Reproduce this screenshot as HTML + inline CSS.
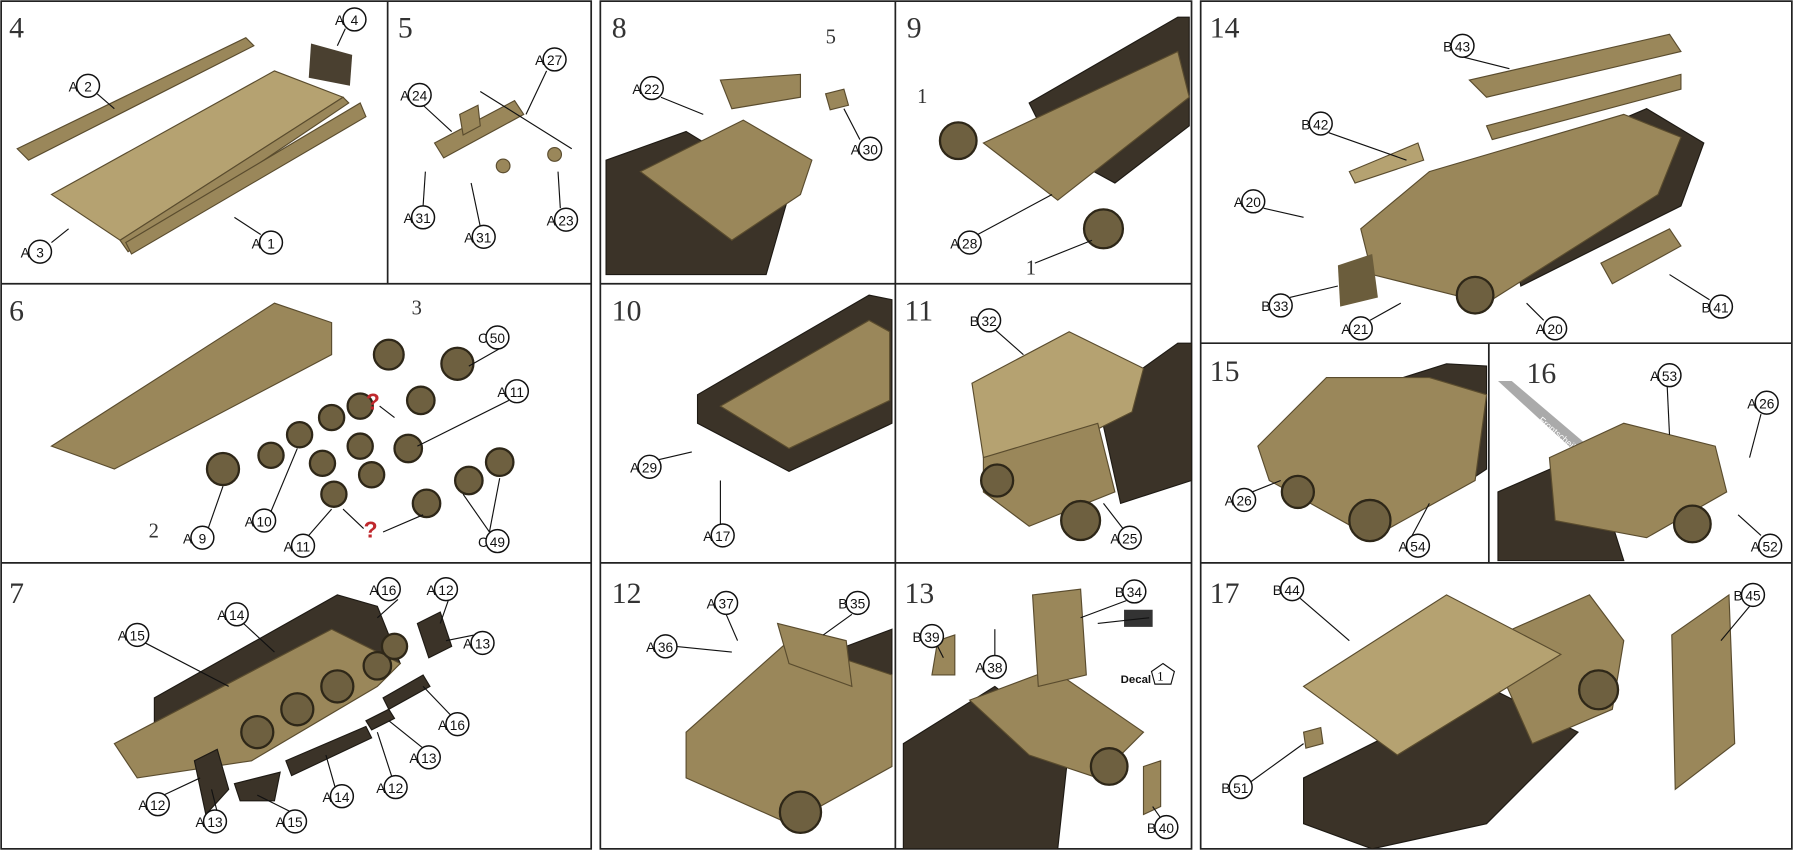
<!DOCTYPE html>
<html><head><meta charset="utf-8"><style>
html,body{margin:0;padding:0;background:#fff}
svg{display:block}
.st{font-family:"Liberation Serif",serif;font-size:26px;fill:#333}
.lb text{font-family:"Liberation Sans",sans-serif;font-size:12px;fill:#111}
.lb circle{fill:#fff;stroke:#111;stroke-width:1.3}
.tan{fill:#9a875a;stroke:#5a4c2e;stroke-width:1}
.tl{fill:#b5a271;stroke:#5a4c2e;stroke-width:1}
.trk{fill:#3b3328;stroke:#1e1a14;stroke-width:1}
.ln{stroke:#111;stroke-width:1;fill:none}
.wh{fill:#6e6040;stroke:#2e2718;stroke-width:2}
</style></head><body>
<svg width="1793" height="850" viewBox="0 0 1568 743" preserveAspectRatio="none" xmlns="http://www.w3.org/2000/svg">
<rect width="1568" height="743" fill="#fff"/>
<g fill="none" stroke="#222" stroke-width="1.5">
<rect x="1" y="1" width="516" height="741"/>
<line x1="1" y1="248" x2="517" y2="248"/><line x1="1" y1="492" x2="517" y2="492"/>
<line x1="339" y1="1" x2="339" y2="248"/>
<rect x="525" y="1" width="517" height="741"/>
<line x1="525" y1="248" x2="1042" y2="248"/><line x1="525" y1="492" x2="1042" y2="492"/>
<line x1="783" y1="1" x2="783" y2="742"/>
<rect x="1050" y="1" width="517" height="741"/>
<line x1="1050" y1="300" x2="1567" y2="300"/><line x1="1050" y1="492" x2="1567" y2="492"/>
<line x1="1302" y1="300" x2="1302" y2="492"/>
</g>
<text class="st" x="8" y="33">4</text><text class="st" x="348" y="33">5</text>
<text class="st" x="535" y="33">8</text><text class="st" x="793" y="33">9</text>
<text class="st" x="1058" y="33">14</text>
<text class="st" x="8" y="280">6</text><text class="st" x="535" y="280">10</text><text class="st" x="791" y="280">11</text>
<text class="st" x="1058" y="333">15</text><text class="st" x="1335" y="335">16</text>
<text class="st" x="8" y="527">7</text><text class="st" x="535" y="527">12</text><text class="st" x="791" y="527">13</text><text class="st" x="1058" y="527">17</text>

<!-- Panel 4 -->
<polygon class="tan" points="15,130 215,33 222,40 25,140"/>
<polygon class="tl" points="45,170 240,62 300,85 105,210"/>
<polygon class="tan" points="105,210 300,85 305,90 112,220"/>
<polygon class="tan" points="110,212 315,90 320,102 115,222"/>
<polygon fill="#4a4030" points="272,38 308,48 306,75 270,68"/>
<!-- Panel 5 -->
<polygon class="tan" points="380,125 450,88 458,100 388,138"/>
<polygon class="tan" points="402,100 418,92 420,110 405,118"/>
<circle class="tan" cx="440" cy="145" r="6"/><circle class="tan" cx="485" cy="135" r="6"/>
<line class="ln" x1="420" y1="80" x2="500" y2="130"/>
<!-- Panel 8 -->
<polygon class="trk" points="530,140 600,115 690,170 670,240 530,240"/>
<polygon class="tan" points="560,150 650,105 710,140 700,170 640,210"/>
<polygon class="tan" points="630,70 700,65 700,85 640,95"/>
<polygon class="tan" points="722,82 738,78 742,92 726,96"/>
<!-- Panel 9 -->
<polygon class="trk" points="900,90 1030,15 1040,15 1040,110 975,160 920,130"/>
<polygon class="tan" points="860,125 1030,45 1040,85 925,175"/>
<circle class="wh" cx="838" cy="123" r="16"/><circle class="wh" cx="965" cy="200" r="17"/>
<!-- Panel 14 -->
<polygon class="tan" points="1285,70 1460,30 1470,45 1300,85"/>
<polygon class="tan" points="1300,110 1470,65 1470,78 1305,122"/>
<polygon class="trk" points="1310,150 1440,95 1490,125 1470,180 1330,250"/>
<polygon class="tan" points="1190,200 1250,150 1420,100 1470,120 1450,170 1300,265 1200,240"/>
<polygon class="tl" points="1180,150 1240,125 1245,140 1185,160"/>
<polygon fill="#6b5d3c" points="1170,232 1200,222 1205,260 1172,268"/>
<polygon class="tan" points="1400,230 1460,200 1470,215 1410,248"/>
<circle class="wh" cx="1290" cy="258" r="16"/>
<!-- Panel 6 -->
<polygon class="tan" points="45,390 240,265 290,282 290,310 100,410"/>
<g class="wh"><circle cx="195" cy="410" r="14"/><circle cx="340" cy="310" r="13"/><circle cx="400" cy="318" r="14"/><circle cx="368" cy="350" r="12"/><circle cx="357" cy="392" r="12"/><circle cx="237" cy="398" r="11"/><circle cx="262" cy="380" r="11"/><circle cx="290" cy="365" r="11"/><circle cx="315" cy="355" r="11"/><circle cx="282" cy="405" r="11"/><circle cx="315" cy="390" r="11"/><circle cx="325" cy="415" r="11"/><circle cx="292" cy="432" r="11"/><circle cx="373" cy="440" r="12"/><circle cx="410" cy="420" r="12"/><circle cx="437" cy="404" r="12"/></g>
<text x="320" y="358" font-family="Liberation Sans" font-size="20" font-weight="bold" fill="#c0282d">?</text>
<text x="318" y="470" font-family="Liberation Sans" font-size="20" font-weight="bold" fill="#c0282d">?</text>
<text x="130" y="470" font-family="Liberation Serif" font-size="18" fill="#333">2</text>
<text x="360" y="275" font-family="Liberation Serif" font-size="18" fill="#333">3</text>
<!-- Panel 10 -->
<polygon class="trk" points="610,345 760,258 780,262 780,370 690,412 610,370"/>
<polygon class="tan" points="630,355 760,280 778,290 778,350 690,392"/>
<!-- Panel 11 -->
<polygon class="trk" points="960,350 1030,300 1042,300 1042,420 980,440"/>
<polygon class="tl" points="850,335 935,290 1000,322 990,360 940,385 860,400"/>
<polygon class="tan" points="860,400 960,370 975,430 900,460 860,430"/>
<circle class="wh" cx="872" cy="420" r="14"/><circle class="wh" cx="945" cy="455" r="17"/>
<!-- Panel 15 -->
<polygon class="trk" points="1180,345 1265,318 1300,320 1300,410 1270,430"/>
<polygon class="tan" points="1100,390 1160,330 1250,330 1300,345 1290,420 1200,470 1110,420"/>
<circle class="wh" cx="1135" cy="430" r="14"/><circle class="wh" cx="1198" cy="455" r="18"/>
<!-- Panel 16 -->
<polygon fill="#aaa" points="1310,333 1322,333 1395,395 1385,402"/>
<text x="1345" y="368" transform="rotate(40 1345 368)" font-family="Liberation Sans" font-size="8" fill="#fff">Frontscheibe</text>
<polygon class="trk" points="1310,430 1390,395 1420,490 1310,490"/>
<polygon class="tan" points="1355,400 1420,370 1500,390 1510,430 1440,470 1360,455"/>
<circle class="wh" cx="1480" cy="458" r="16"/>
<!-- Panel 7 -->
<polygon class="trk" points="135,610 295,520 330,530 350,580 200,660 135,650"/>
<polygon class="tan" points="100,650 290,550 350,580 330,600 220,665 120,680"/>
<g class="wh"><circle cx="225" cy="640" r="14"/><circle cx="260" cy="620" r="14"/><circle cx="295" cy="600" r="14"/><circle cx="330" cy="582" r="12"/><circle cx="345" cy="565" r="11"/></g>
<polygon class="trk" points="170,665 190,655 200,690 180,712"/>
<polygon class="trk" points="365,545 385,535 395,565 375,575"/>
<polygon class="trk" points="205,685 245,675 240,700 210,700"/>
<polygon class="trk" points="250,665 320,635 325,645 255,678"/>
<polygon class="trk" points="335,610 370,590 376,600 340,620"/>
<polygon class="trk" points="320,630 340,620 345,628 325,638"/>
<!-- Panel 12 -->
<polygon class="trk" points="700,580 780,550 780,640 730,660"/>
<polygon class="tan" points="600,640 690,560 780,590 780,670 690,720 600,680"/>
<polygon class="tan" points="680,545 740,560 745,600 690,580"/>
<circle class="wh" cx="700" cy="710" r="18"/>
<!-- Panel 13 -->
<polygon class="trk" points="790,650 870,600 935,650 925,742 790,742"/>
<polygon class="tan" points="848,612 920,585 1000,640 960,680 900,660"/>
<polygon class="tan" points="903,520 945,515 950,590 908,600"/>
<circle class="wh" cx="970" cy="670" r="16"/>
<polygon fill="#333" points="983,533 1008,533 1008,548 983,548"/>
<text x="980" y="597" font-family="Liberation Sans" font-size="10" font-weight="bold" fill="#111">Decal</text>
<polygon points="1017,580 1027,587 1024,598 1010,598 1007,587" fill="#fff" stroke="#111"/>
<text x="1012" y="595" font-family="Liberation Serif" font-size="11">1</text>
<polygon class="tan" points="820,560 835,555 835,590 815,590"/>
<polygon class="tan" points="1000,670 1015,665 1015,705 1000,712"/>
<!-- Panel 17 -->
<polygon class="trk" points="1140,680 1300,600 1380,640 1300,720 1200,742 1140,720"/>
<polygon class="tan" points="1300,560 1390,520 1420,560 1410,620 1340,650"/>
<polygon class="tl" points="1140,600 1265,520 1365,572 1222,660"/>
<polygon class="tan" points="1462,555 1512,520 1517,650 1465,690"/>
<polygon class="tan" points="1140,640 1155,636 1157,650 1142,654"/>
<circle class="wh" cx="1398" cy="603" r="17"/>

<!-- leader lines -->
<g class="ln">
<path d="M302,25 L295,40"/><path d="M85,82 L100,95"/><path d="M45,212 L60,200"/><path d="M228,205 L205,190"/>
<path d="M478,62 L460,100"/><path d="M370,92 L395,115"/><path d="M370,180 L372,150"/><path d="M420,198 L412,160"/><path d="M490,182 L488,150"/>
<path d="M578,85 L615,100"/><path d="M752,122 L738,95"/><path d="M855,205 L920,170"/><path d="M905,230 L955,210"/>
<path d="M1280,50 L1320,60"/><path d="M1162,116 L1230,140"/><path d="M1105,182 L1140,190"/><path d="M1128,260 L1170,250"/><path d="M1198,280 L1225,265"/><path d="M1350,280 L1335,265"/><path d="M1495,262 L1460,240"/>
<path d="M440,303 L410,320"/><path d="M445,350 L365,390"/><path d="M182,462 L195,425"/><path d="M237,447 L260,392"/><path d="M270,468 L290,445"/><path d="M428,465 L405,432"/><path d="M428,465 L437,418"/>
<path d="M332,355 L345,365 M318,462 L300,445 M335,465 L370,450"/>
<path d="M575,402 L605,395"/><path d="M630,458 L630,420"/><path d="M870,288 L895,310"/><path d="M982,462 L965,440"/>
<path d="M1095,430 L1120,420"/><path d="M1235,468 L1250,440"/><path d="M1458,338 L1460,380"/><path d="M1540,362 L1530,400"/><path d="M1540,468 L1520,450"/>
<path d="M348,524 L330,540"/><path d="M392,525 L385,545"/><path d="M213,545 L240,570"/><path d="M127,562 L200,600"/><path d="M415,555 L390,560"/><path d="M394,625 L370,600"/><path d="M370,654 L340,630"/><path d="M343,680 L330,640"/><path d="M293,688 L285,660"/><path d="M143,695 L175,680"/><path d="M190,710 L185,690"/><path d="M255,710 L225,695"/>
<path d="M635,537 L645,560"/><path d="M745,537 L720,555"/><path d="M590,565 L640,570"/>
<path d="M985,525 L945,540"/><path d="M820,565 L825,575"/><path d="M870,575 L870,550"/><path d="M1015,715 L1008,705"/><path d="M1005,540 L960,545"/>
<path d="M1137,523 L1180,560"/><path d="M1530,530 L1505,560"/><path d="M1093,684 L1140,650"/>
</g>

<g class="lb">
<g transform="translate(310,17)"><text x="-17" y="5">A</text><circle r="10"/><text y="5" text-anchor="middle">4</text></g>
<g transform="translate(77,75)"><text x="-17" y="5">A</text><circle r="10"/><text y="5" text-anchor="middle">2</text></g>
<g transform="translate(35,220)"><text x="-17" y="5">A</text><circle r="10"/><text y="5" text-anchor="middle">3</text></g>
<g transform="translate(237,212)"><text x="-17" y="5">A</text><circle r="10"/><text y="5" text-anchor="middle">1</text></g>
<g transform="translate(485,52)"><text x="-17" y="5">A</text><circle r="10"/><text y="5" text-anchor="middle">27</text></g>
<g transform="translate(367,83)"><text x="-17" y="5">A</text><circle r="10"/><text y="5" text-anchor="middle">24</text></g>
<g transform="translate(370,190)"><text x="-17" y="5">A</text><circle r="10"/><text y="5" text-anchor="middle">31</text></g>
<g transform="translate(423,207)"><text x="-17" y="5">A</text><circle r="10"/><text y="5" text-anchor="middle">31</text></g>
<g transform="translate(495,192)"><text x="-17" y="5">A</text><circle r="10"/><text y="5" text-anchor="middle">23</text></g>
<g transform="translate(570,77)"><text x="-17" y="5">A</text><circle r="10"/><text y="5" text-anchor="middle">22</text></g>
<g transform="translate(761,130)"><text x="-17" y="5">A</text><circle r="10"/><text y="5" text-anchor="middle">30</text></g>
<g transform="translate(848,212)"><text x="-17" y="5">A</text><circle r="10"/><text y="5" text-anchor="middle">28</text></g>
<g transform="translate(1279,40)"><text x="-17" y="5">B</text><circle r="10"/><text y="5" text-anchor="middle">43</text></g>
<g transform="translate(1155,108)"><text x="-17" y="5">B</text><circle r="10"/><text y="5" text-anchor="middle">42</text></g>
<g transform="translate(1096,176)"><text x="-17" y="5">A</text><circle r="10"/><text y="5" text-anchor="middle">20</text></g>
<g transform="translate(1120,267)"><text x="-17" y="5">B</text><circle r="10"/><text y="5" text-anchor="middle">33</text></g>
<g transform="translate(1190,287)"><text x="-17" y="5">A</text><circle r="10"/><text y="5" text-anchor="middle">21</text></g>
<g transform="translate(1360,287)"><text x="-17" y="5">A</text><circle r="10"/><text y="5" text-anchor="middle">20</text></g>
<g transform="translate(1505,268)"><text x="-17" y="5">B</text><circle r="10"/><text y="5" text-anchor="middle">41</text></g>
<g transform="translate(435,295)"><text x="-17" y="5">C</text><circle r="10"/><text y="5" text-anchor="middle">50</text></g>
<g transform="translate(452,342)"><text x="-17" y="5">A</text><circle r="10"/><text y="5" text-anchor="middle">11</text></g>
<g transform="translate(177,470)"><text x="-17" y="5">A</text><circle r="10"/><text y="5" text-anchor="middle">9</text></g>
<g transform="translate(231,455)"><text x="-17" y="5">A</text><circle r="10"/><text y="5" text-anchor="middle">10</text></g>
<g transform="translate(265,477)"><text x="-17" y="5">A</text><circle r="10"/><text y="5" text-anchor="middle">11</text></g>
<g transform="translate(435,473)"><text x="-17" y="5">C</text><circle r="10"/><text y="5" text-anchor="middle">49</text></g>
<g transform="translate(568,408)"><text x="-17" y="5">A</text><circle r="10"/><text y="5" text-anchor="middle">29</text></g>
<g transform="translate(632,468)"><text x="-17" y="5">A</text><circle r="10"/><text y="5" text-anchor="middle">17</text></g>
<g transform="translate(865,280)"><text x="-17" y="5">B</text><circle r="10"/><text y="5" text-anchor="middle">32</text></g>
<g transform="translate(988,470)"><text x="-17" y="5">A</text><circle r="10"/><text y="5" text-anchor="middle">25</text></g>
<g transform="translate(1088,437)"><text x="-17" y="5">A</text><circle r="10"/><text y="5" text-anchor="middle">26</text></g>
<g transform="translate(1240,477)"><text x="-17" y="5">A</text><circle r="10"/><text y="5" text-anchor="middle">54</text></g>
<g transform="translate(1460,328)"><text x="-17" y="5">A</text><circle r="10"/><text y="5" text-anchor="middle">53</text></g>
<g transform="translate(1545,352)"><text x="-17" y="5">A</text><circle r="10"/><text y="5" text-anchor="middle">26</text></g>
<g transform="translate(1548,477)"><text x="-17" y="5">A</text><circle r="10"/><text y="5" text-anchor="middle">52</text></g>
<g transform="translate(340,515)"><text x="-17" y="5">A</text><circle r="10"/><text y="5" text-anchor="middle">16</text></g>
<g transform="translate(390,515)"><text x="-17" y="5">A</text><circle r="10"/><text y="5" text-anchor="middle">12</text></g>
<g transform="translate(207,537)"><text x="-17" y="5">A</text><circle r="10"/><text y="5" text-anchor="middle">14</text></g>
<g transform="translate(120,555)"><text x="-17" y="5">A</text><circle r="10"/><text y="5" text-anchor="middle">15</text></g>
<g transform="translate(422,562)"><text x="-17" y="5">A</text><circle r="10"/><text y="5" text-anchor="middle">13</text></g>
<g transform="translate(400,633)"><text x="-17" y="5">A</text><circle r="10"/><text y="5" text-anchor="middle">16</text></g>
<g transform="translate(375,662)"><text x="-17" y="5">A</text><circle r="10"/><text y="5" text-anchor="middle">13</text></g>
<g transform="translate(346,688)"><text x="-17" y="5">A</text><circle r="10"/><text y="5" text-anchor="middle">12</text></g>
<g transform="translate(299,696)"><text x="-17" y="5">A</text><circle r="10"/><text y="5" text-anchor="middle">14</text></g>
<g transform="translate(138,703)"><text x="-17" y="5">A</text><circle r="10"/><text y="5" text-anchor="middle">12</text></g>
<g transform="translate(188,718)"><text x="-17" y="5">A</text><circle r="10"/><text y="5" text-anchor="middle">13</text></g>
<g transform="translate(258,718)"><text x="-17" y="5">A</text><circle r="10"/><text y="5" text-anchor="middle">15</text></g>
<g transform="translate(635,527)"><text x="-17" y="5">A</text><circle r="10"/><text y="5" text-anchor="middle">37</text></g>
<g transform="translate(750,527)"><text x="-17" y="5">B</text><circle r="10"/><text y="5" text-anchor="middle">35</text></g>
<g transform="translate(582,565)"><text x="-17" y="5">A</text><circle r="10"/><text y="5" text-anchor="middle">36</text></g>
<g transform="translate(992,517)"><text x="-17" y="5">B</text><circle r="10"/><text y="5" text-anchor="middle">34</text></g>
<g transform="translate(815,556)"><text x="-17" y="5">B</text><circle r="10"/><text y="5" text-anchor="middle">39</text></g>
<g transform="translate(870,583)"><text x="-17" y="5">A</text><circle r="10"/><text y="5" text-anchor="middle">38</text></g>
<g transform="translate(1020,723)"><text x="-17" y="5">B</text><circle r="10"/><text y="5" text-anchor="middle">40</text></g>
<g transform="translate(1130,515)"><text x="-17" y="5">B</text><circle r="10"/><text y="5" text-anchor="middle">44</text></g>
<g transform="translate(1533,520)"><text x="-17" y="5">B</text><circle r="10"/><text y="5" text-anchor="middle">45</text></g>
<g transform="translate(1085,688)"><text x="-17" y="5">B</text><circle r="10"/><text y="5" text-anchor="middle">51</text></g>
</g>
<text x="722" y="38" font-family="Liberation Serif" font-size="18" fill="#333">5</text>
<text x="802" y="90" font-family="Liberation Serif" font-size="18" fill="#333">1</text>
<text x="897" y="240" font-family="Liberation Serif" font-size="18" fill="#333">1</text>
</svg>
</body></html>
